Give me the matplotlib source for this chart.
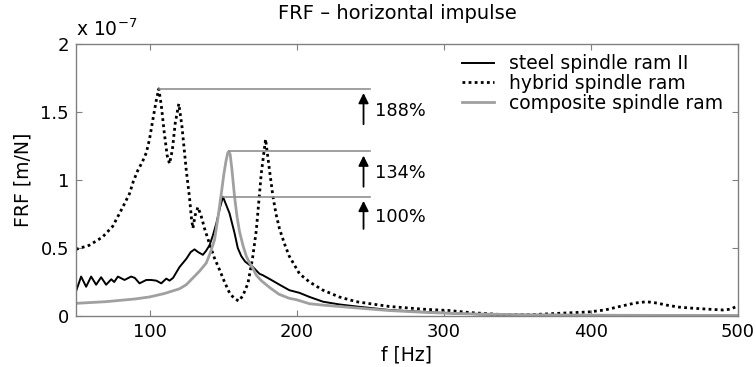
import numpy as np
import matplotlib
matplotlib.use("Agg")
import matplotlib.pyplot as plt

# values in units of 1e-7 m/N
steel_f = [50, 53.5, 56.9, 60.3, 63.7, 67.1, 70.5, 74, 76, 78.5, 83, 87.5, 90, 93.2, 97.8,
           101, 104.6, 108, 111.4, 113.6, 116, 120.4, 125, 128, 130.6, 133, 136.3, 138.5,
           140.8, 143, 145.4, 148, 149.9, 152, 154.4, 157.8, 160, 162.4, 165, 168, 170.3,
           174.8, 177, 182, 188.4, 195, 202, 208.8, 218, 229, 240.6, 263, 286, 300, 325,
           350, 375, 400, 450, 500]
steel_v = [0.18, 0.29, 0.215, 0.29, 0.23, 0.285, 0.23, 0.27, 0.25, 0.29, 0.265, 0.29, 0.28,
           0.24, 0.265, 0.265, 0.26, 0.24, 0.275, 0.26, 0.28, 0.36, 0.42, 0.47, 0.49, 0.47,
           0.45, 0.48, 0.52, 0.59, 0.68, 0.80, 0.877, 0.82, 0.755, 0.61, 0.50, 0.44, 0.40,
           0.375, 0.36, 0.31, 0.30, 0.27, 0.23, 0.19, 0.17, 0.14, 0.105, 0.085, 0.07, 0.044,
           0.03, 0.022, 0.012, 0.008, 0.005, 0.004, 0.003, 0.002]

hybrid_f = [50, 59, 68, 75, 81.8, 86.4, 89, 92, 95, 97.8, 100, 102.2, 104.5, 106.3, 108,
            110, 112, 113.6, 115.5, 117.5, 119.9, 122, 124, 125, 127.2, 128.5, 129.5, 131,
            132.9, 135, 137.5, 140.8, 144, 147.6, 151, 154.4, 157.5, 160.7, 163.5, 166.9,
            170, 172.6, 176, 178.9, 181.6, 183.9, 186, 188.4, 191.8, 195, 202, 208.8,
            217.9, 229, 240.6, 263, 286, 304, 318, 340, 360, 379, 399, 410, 419.7, 430,
            437.9, 445, 451.5, 460, 469.6, 480, 490, 495, 499, 500]
hybrid_v = [0.49, 0.52, 0.58, 0.66, 0.80, 0.90, 0.99, 1.07, 1.13, 1.20, 1.30, 1.44, 1.58,
            1.67, 1.55, 1.35, 1.18, 1.12, 1.22, 1.42, 1.56, 1.40, 1.18, 1.07, 0.87, 0.72,
            0.645, 0.74, 0.80, 0.74, 0.64, 0.53, 0.43, 0.34, 0.25, 0.17, 0.13, 0.11, 0.15,
            0.24, 0.42, 0.63, 1.05, 1.30, 1.07, 0.88, 0.75, 0.64, 0.53, 0.44, 0.31, 0.25,
            0.19, 0.14, 0.105, 0.07, 0.05, 0.04, 0.025, 0.01, 0.01, 0.02, 0.03, 0.045, 0.07,
            0.095, 0.105, 0.095, 0.08, 0.065, 0.057, 0.05, 0.044, 0.05, 0.07, 0.075]

comp_f = [50, 70, 90, 100, 110, 120.4, 125, 129.5, 134, 138.6, 141.5, 144.2, 146.5, 148.8,
          150.5, 152, 153.2, 153.9, 154.8, 156, 157.8, 159.5, 161.2, 163.5, 165.8, 168,
          170.3, 172.6, 176, 181.6, 188, 195, 199.8, 208.8, 218, 240, 263, 290, 320, 350,
          400, 450, 500]
comp_v = [0.093, 0.105, 0.125, 0.14, 0.165, 0.20, 0.23, 0.28, 0.33, 0.39, 0.47, 0.56, 0.72,
          0.90, 1.04, 1.14, 1.20, 1.21, 1.19, 1.08, 0.88, 0.73, 0.62, 0.52, 0.44, 0.39,
          0.35, 0.30, 0.26, 0.21, 0.16, 0.13, 0.12, 0.09, 0.08, 0.06, 0.04, 0.025, 0.015,
          0.01, 0.006, 0.004, 0.003]

# peak markers: peak frequency, peak value, arrow start, label
peaks_f = [106.3, 153.9, 149.9]
peaks_v = [1.67, 1.21, 0.877]
arrow_low = [1.39, 0.93, 0.62]
peak_labels = ["188%", "134%", "100%"]

plt.rcParams['font.family'] = ['DejaVu Sans']
fig = plt.figure(figsize=(7.56, 3.67), dpi=100)
ax = fig.add_axes([0.1005, 0.139, 0.8755, 0.741])

ax.plot(steel_f, steel_v, color='black', lw=1.4, label='steel spindle ram II')
ax.plot(hybrid_f, hybrid_v, color='black', lw=2, linestyle=(0, (1, 1.2)), label='hybrid spindle ram')
ax.plot(comp_f, comp_v, color='#a0a0a0', lw=2, label='composite spindle ram')

for pf, pv, lo, lab in zip(peaks_f, peaks_v, arrow_low, peak_labels):
    ax.plot([pf, 250], [pv, pv], color='#909090', lw=1.2)
    ax.annotate('', xy=(245.5, pv - 0.01), xytext=(245.5, lo),
                arrowprops=dict(arrowstyle='-|>', color='black', lw=1.3, mutation_scale=15))
    ax.text(253, (pv + lo) / 2 - 0.02, lab, fontsize=12.8, va='center', ha='left')

ax.set_xlim(50, 500)
ax.set_ylim(0, 2)
ax.set_xticks([100, 200, 300, 400, 500])
ax.set_yticks([0, 0.5, 1, 1.5, 2])
ax.set_yticklabels(['0', '0.5', '1', '1.5', '2'])
ax.tick_params(direction='in', top=True, right=True, length=4, color='#808080',
               labelsize=13, pad=5)
for s in ax.spines.values():
    s.set_color('#808080')
    s.set_linewidth(1)

ax.set_title('FRF – horizontal impulse', fontsize=14, pad=18, x=0.485)
ax.set_xlabel('f [Hz]', fontsize=13.5, labelpad=3)
ax.set_ylabel('FRF [m/N]', fontsize=13.5, labelpad=6)
ax.text(0.0, 1.015, r'x 10$^{-7}$', transform=ax.transAxes, fontsize=13.5, ha='left', va='bottom')

ax.legend(loc='upper left', bbox_to_anchor=(0.583, 0.963), frameon=False, fontsize=13.5,
          handlelength=1.7, borderpad=0, borderaxespad=0, labelspacing=0.05,
          handletextpad=0.8)

fig.savefig('out.png', dpi=100)
